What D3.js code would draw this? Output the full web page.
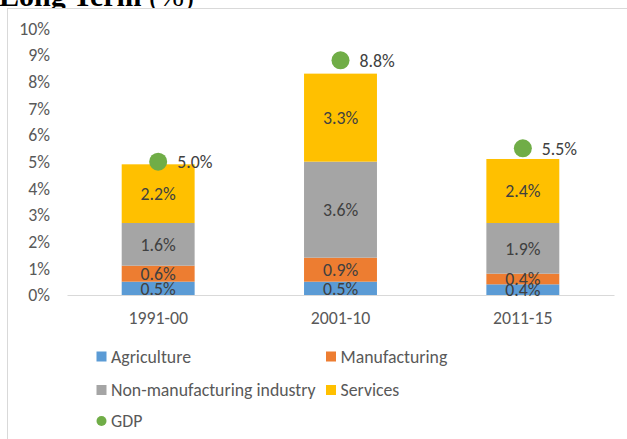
<!DOCTYPE html>
<html>
<head>
<meta charset="utf-8">
<script src="https://cdn.jsdelivr.net/npm/d3@7/dist/d3.min.js"></script>
<style>
  html, body { margin: 0; padding: 0; background: #fff; }
  svg { display: block; }
</style>
</head>
<body>
<svg id="chart" width="627" height="439"></svg>
<script>
// Contribution to GDP growth by sector, long-term averages
const periods = ["1991-00", "2001-10", "2011-15"];
const sectorNames = ["Agriculture", "Manufacturing", "Non-manufacturing industry", "Services"];
const agriculture = [0.5, 0.5, 0.4];
const manufacturing = [0.6, 0.9, 0.4];
const nonManufacturing = [1.6, 3.6, 1.9];
const services = [2.2, 3.3, 2.4];
const gdp = [5.0, 8.8, 5.5];
const yTicks = [0, 1, 2, 3, 4, 5, 6, 7, 8, 9, 10];

const sectorColors = ["#5B9BD5", "#ED7D31", "#A5A5A5", "#FFC000"];
const gdpColor = "#70AD47";
const font = "Carlito, Calibri, Lato, sans-serif";
const fs = 17.8;

const svg = d3.select("#chart");

// Title (partly above the visible area)
const title = svg.append("text")
  .attr("x", -1).attr("y", 6)
  .attr("font-family", "'Liberation Serif', 'Times New Roman', serif")
  .attr("font-size", 30).attr("fill", "#000");
title.append("tspan").attr("font-weight", "bold").text("Long Term ");
title.append("tspan").text("(%)");

// Chart frame
svg.append("rect")
  .attr("x", 7.5).attr("y", 8.5)
  .attr("width", 640).attr("height", 460)
  .attr("fill", "#fff").attr("stroke", "#d9d9d9").attr("stroke-width", 1);

const x = d3.scaleBand().domain(periods).range([67, 614]).padding(0);
const y = d3.scaleLinear().domain([0, 10]).range([295, 28.3]);
const barW = x.bandwidth() / 2.5;

// Stack the sector series
const rows = periods.map((p, i) => ({
  period: p,
  [sectorNames[0]]: agriculture[i],
  [sectorNames[1]]: manufacturing[i],
  [sectorNames[2]]: nonManufacturing[i],
  [sectorNames[3]]: services[i]
}));
const stacked = d3.stack().keys(sectorNames)(rows);

// Y axis labels
const yAxis = d3.axisLeft(y).tickValues(yTicks).tickSize(0).tickPadding(17)
  .tickFormat(d => d + "%");
const gy = svg.append("g").attr("transform", "translate(67,0)").call(yAxis);
gy.select(".domain").remove();
gy.selectAll("text").attr("font-family", font).attr("font-size", fs).attr("fill", "#595959");

// Bars
const layers = svg.append("g").selectAll("g").data(stacked).join("g")
  .attr("fill", (d, i) => sectorColors[i]);
layers.selectAll("rect").data(d => d).join("rect")
  .attr("x", d => x(d.data.period) + x.bandwidth() / 2 - barW / 2)
  .attr("y", d => y(d[1]))
  .attr("width", barW)
  .attr("height", d => y(d[0]) - y(d[1]));

// X axis with baseline
const xAxis = d3.axisBottom(x).tickSize(0).tickSizeOuter(0).tickPadding(16);
const gx = svg.append("g").attr("transform", "translate(0,295)").call(xAxis);
gx.select(".domain").attr("stroke", "#d9d9d9").attr("stroke-width", 1);
gx.selectAll("text").attr("font-family", font).attr("font-size", fs).attr("fill", "#595959");

// Segment value labels
const fmt = d3.format(".1f");
const labelG = svg.append("g");
stacked.forEach(layer => {
  labelG.selectAll(null).data(layer).join("text")
    .attr("x", d => x(d.data.period) + x.bandwidth() / 2)
    .attr("y", d => (y(d[0]) + y(d[1])) / 2)
    .attr("dy", "0.35em")
    .attr("text-anchor", "middle")
    .attr("font-family", font).attr("font-size", fs).attr("fill", "#404040")
    .text(d => fmt(d[1] - d[0]) + "%");
});

// GDP markers and labels
const gdpG = svg.append("g");
gdpG.selectAll("circle").data(gdp).join("circle")
  .attr("cx", (d, i) => x(periods[i]) + x.bandwidth() / 2)
  .attr("cy", d => y(d))
  .attr("r", 9)
  .attr("fill", gdpColor);
gdpG.selectAll("text").data(gdp).join("text")
  .attr("x", (d, i) => x(periods[i]) + x.bandwidth() / 2 + 19)
  .attr("y", d => y(d))
  .attr("dy", "0.35em")
  .attr("font-family", font).attr("font-size", fs).attr("fill", "#404040")
  .text(d => fmt(d) + "%");

// Legend
const legendItems = [
  { name: sectorNames[0], color: sectorColors[0], shape: "square", lx: 96.5, ly: 356.5 },
  { name: sectorNames[1], color: sectorColors[1], shape: "square", lx: 326, ly: 356.5 },
  { name: sectorNames[2], color: sectorColors[2], shape: "square", lx: 96.5, ly: 390 },
  { name: sectorNames[3], color: sectorColors[3], shape: "square", lx: 326, ly: 390 },
  { name: "GDP", color: gdpColor, shape: "circle", lx: 96.5, ly: 421 }
];
const lg = svg.append("g").selectAll("g").data(legendItems).join("g")
  .attr("transform", d => `translate(${d.lx},${d.ly})`);
lg.filter(d => d.shape === "square").append("rect")
  .attr("x", 0).attr("y", -5).attr("width", 10).attr("height", 10)
  .attr("fill", d => d.color);
lg.filter(d => d.shape === "circle").append("circle")
  .attr("cx", 5).attr("cy", 0).attr("r", 5)
  .attr("fill", d => d.color);
lg.append("text")
  .attr("x", 14.5).attr("y", 0).attr("dy", "0.35em")
  .attr("font-family", font).attr("font-size", fs).attr("fill", "#595959")
  .text(d => d.name);
</script>
</body>
</html>
